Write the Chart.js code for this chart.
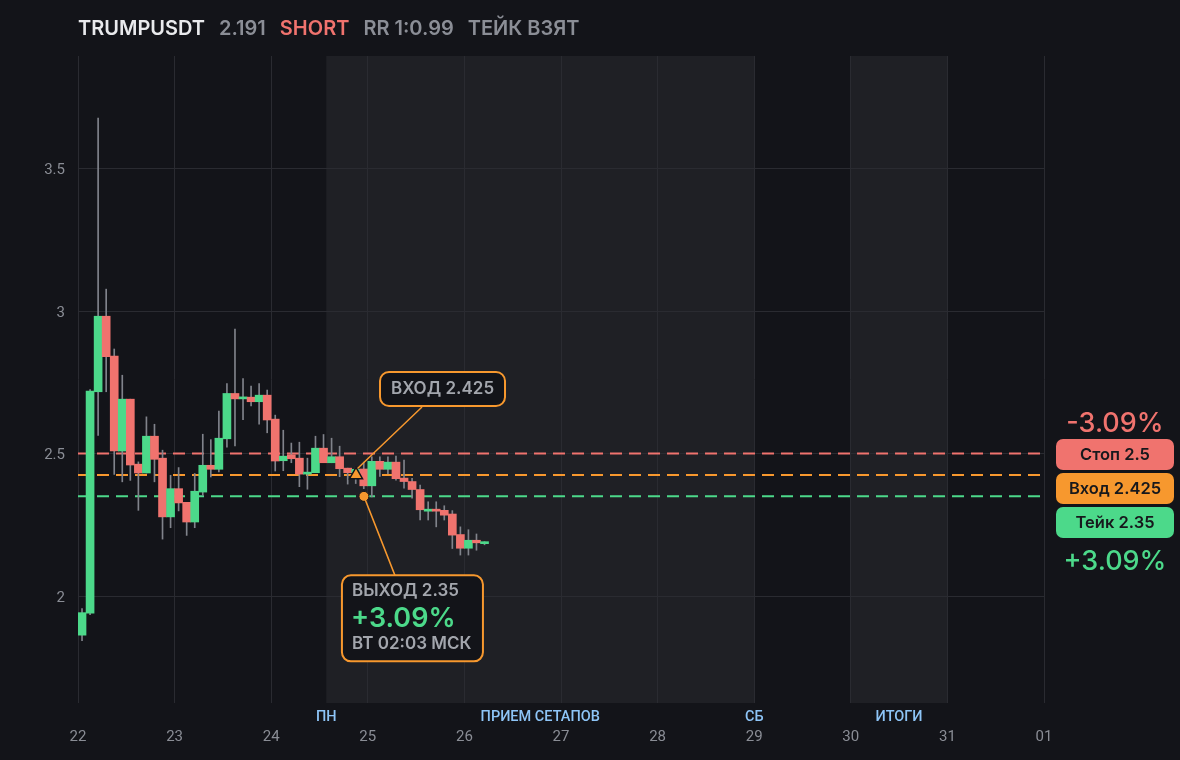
<!DOCTYPE html>
<html lang="ru">
<head>
<meta charset="utf-8">
<title>TRUMPUSDT</title>
<script src="https://cdn.jsdelivr.net/npm/chart.js@4.4.1/dist/chart.umd.min.js"></script>
<style>
html, body { margin: 0; padding: 0; background: #131419; }
#wrap { position: relative; width: 1180px; height: 760px; overflow: hidden; background: #131419; font-family: Inter, "Noto Sans", sans-serif; }
#chart { position: absolute; left: 0; top: 0; }
.head { position: absolute; left: 78px; top: 15px; display: flex; gap: 14px; font-size: 20px; font-weight: 600; line-height: 26px; white-space: nowrap; color: #8b8e96; }
.head .sym { color: #e9eaed; }
.head .side { color: #f0736e; }
.pct { position: absolute; left: 1056px; width: 118px; text-align: center; font-size: 27px; font-weight: 500; line-height: 30px; }
.pill { position: absolute; left: 1056px; width: 118px; height: 31px; border-radius: 7px; text-align: center; font-size: 16.5px; font-weight: 600; line-height: 31px; color: #17181c; }
</style>
</head>
<body>
<div id="wrap">
    <canvas id="chart" width="1180" height="760"></canvas>

    <div class="head">
        <span class="sym">TRUMPUSDT</span>
        <span>2.191</span>
        <span class="side">SHORT</span>
        <span>RR 1:0.99</span>
        <span>ТЕЙК ВЗЯТ</span>
    </div>

    <div class="pct" style="top:408px;color:#f0736e">-3.09%</div>
    <div class="pill" style="top:439px;background:#f0736e">Стоп 2.5</div>
    <div class="pill" style="top:473px;background:#f7982e">Вход 2.425</div>
    <div class="pill" style="top:507px;background:#4cd98a">Тейк 2.35</div>
    <div class="pct" style="top:546px;color:#4cd98a">+3.09%</div>
</div>

<script>
/* ==========================================
   TRUMPUSDT 2h candles + trade levels
========================================== */

/* ---------- data ---------- */

const candleStart = 22;        // day of first candle
const candleStep = 1 / 12;     // 2h candles

const opens = [
    1.863, 1.940, 2.717, 2.982, 2.842, 2.509, 2.691, 2.463, 2.432, 2.561,
    2.484, 2.278, 2.377, 2.329, 2.260, 2.365, 2.459, 2.445, 2.552, 2.711,
    2.692, 2.698, 2.682, 2.705, 2.621, 2.475, 2.496, 2.484, 2.428, 2.433,
    2.519, 2.468, 2.489, 2.449, 2.433, 2.446, 2.387, 2.473, 2.445, 2.470,
    2.414, 2.402, 2.374, 2.298, 2.304, 2.301, 2.288, 2.216, 2.168, 2.196,
    2.184
];
const highs = [
    1.956, 2.725, 3.677, 3.077, 2.867, 2.775, 2.691, 2.471, 2.629, 2.603,
    2.512, 2.424, 2.451, 2.329, 2.430, 2.568, 2.549, 2.649, 2.746, 2.937,
    2.763, 2.737, 2.746, 2.723, 2.635, 2.582, 2.537, 2.540, 2.484, 2.561,
    2.567, 2.554, 2.526, 2.449, 2.450, 2.470, 2.489, 2.489, 2.489, 2.491,
    2.477, 2.413, 2.390, 2.331, 2.331, 2.317, 2.300, 2.243, 2.233, 2.218,
    2.191
];
const lows = [
    1.844, 1.935, 2.564, 2.717, 2.427, 2.401, 2.406, 2.301, 2.432, 2.401,
    2.200, 2.240, 2.299, 2.213, 2.240, 2.354, 2.418, 2.436, 2.523, 2.527,
    2.619, 2.667, 2.603, 2.573, 2.439, 2.440, 2.468, 2.384, 2.375, 2.433,
    2.475, 2.468, 2.419, 2.393, 2.395, 2.377, 2.348, 2.420, 2.430, 2.407,
    2.379, 2.344, 2.267, 2.267, 2.243, 2.267, 2.167, 2.144, 2.144, 2.161,
    2.180
];
const closes = [
    1.942, 2.719, 2.982, 2.840, 2.509, 2.691, 2.460, 2.432, 2.561, 2.480,
    2.278, 2.377, 2.327, 2.260, 2.368, 2.459, 2.445, 2.554, 2.711, 2.692,
    2.698, 2.682, 2.705, 2.618, 2.474, 2.491, 2.482, 2.428, 2.435, 2.519,
    2.468, 2.489, 2.447, 2.433, 2.445, 2.387, 2.473, 2.445, 2.470, 2.412,
    2.402, 2.374, 2.303, 2.304, 2.298, 2.284, 2.214, 2.168, 2.196, 2.187,
    2.191
];

const dayTicks  = [22, 23, 24, 25, 26, 27, 28, 29, 30, 31, 32];
const dayLabels = ["22", "23", "24", "25", "26", "27", "28", "29", "30", "31", "01"];
const yTicks    = [2, 2.5, 3, 3.5];
const yMin = 1.625;
const yMax = 3.895;

const bandFrom = [24.57, 30];
const bandTo   = [29, 31];
const bandNames  = ["ПН", "ПРИЕМ СЕТАПОВ", "СБ", "ИТОГИ"];
const bandNameAt = [24.57, 26.785, 29, 30.5];

const stopPrice  = 2.5;
const entryPrice = 2.425;
const takePrice  = 2.35;
const entryTime  = 24.878;
const exitTime   = 24.96;
const exitPrice  = 2.35;

/* ---------- colours ---------- */

const RED = "#f0736e";
const GREEN = "#4cd98a";
const ORANGE = "#f7982e";
const BG = "#131419";
const BAND = "#1f2025";
const GRID = "#2a2b31";
const TICK = "#8a8d95";

document.addEventListener("DOMContentLoaded", () => {

    const times = opens.map((o, i) => candleStart + (i + 0.5) * candleStep);
    const up = opens.map((o, i) => closes[i] >= o);

    const bodies = times.map((t, i) => ({ x: t, y: [opens[i], closes[i]] }));
    const wicks  = times.map((t, i) => ({ x: t, y: [lows[i], highs[i]] }));

    const level = (price) => [{ x: dayTicks[0], y: price }, { x: dayTicks[dayTicks.length - 1], y: price }];

    /* ======================================
            Background bands + labels
    ====================================== */

    const backdrop = {
        id: "backdrop",
        beforeDraw(chart) {
            const { ctx, chartArea, scales: { x } } = chart;
            ctx.save();
            ctx.fillStyle = BG;
            ctx.fillRect(0, 0, chart.width, chart.height);
            ctx.fillStyle = BAND;
            bandFrom.forEach((from, i) => {
                const x0 = x.getPixelForValue(from);
                const x1 = x.getPixelForValue(bandTo[i]);
                ctx.fillRect(x0, chartArea.top, x1 - x0, chartArea.bottom - chartArea.top);
            });
            ctx.font = "500 14.5px Roboto";
            ctx.fillStyle = "#8ec5f7";
            ctx.textAlign = "center";
            ctx.textBaseline = "middle";
            bandNames.forEach((name, i) => {
                ctx.fillText(name, x.getPixelForValue(bandNameAt[i]), chartArea.bottom + 14);
            });
            ctx.restore();
        }
    };

    /* ======================================
            Entry / exit callouts
    ====================================== */

    const callouts = {
        id: "callouts",
        beforeDatasetDraw(chart, args) {
            if (args.index !== 5) return;
            const { ctx, scales: { x, y } } = chart;
            const ex = x.getPixelForValue(entryTime), ey = y.getPixelForValue(entryPrice);
            const qx = x.getPixelForValue(exitTime), qy = y.getPixelForValue(exitPrice);
            ctx.save();
            ctx.strokeStyle = ORANGE;
            ctx.lineWidth = 1.5;
            ctx.beginPath();
            ctx.moveTo(ex + 66, ey - 68);
            ctx.lineTo(ex + 1, ey - 6);
            ctx.moveTo(qx, qy);
            ctx.lineTo(qx + 31, qy + 79);
            ctx.stroke();
            ctx.restore();
        },
        afterDatasetsDraw(chart) {
            const { ctx, scales: { x, y } } = chart;
            const ex = x.getPixelForValue(entryTime), ey = y.getPixelForValue(entryPrice);
            const qx = x.getPixelForValue(exitTime), qy = y.getPixelForValue(exitPrice);

            const box = (bx, by, w, h) => {
                ctx.beginPath();
                ctx.roundRect(bx, by, w, h, 9);
                ctx.fillStyle = BG;
                ctx.fill();
                ctx.lineWidth = 2;
                ctx.strokeStyle = ORANGE;
                ctx.stroke();
            };

            ctx.save();
            ctx.textBaseline = "middle";

            // entry
            box(ex + 24, ey - 103, 125, 34);
            ctx.font = "600 17px Inter";
            ctx.fillStyle = "#a3a6ad";
            ctx.textAlign = "center";
            ctx.fillText("ВХОД 2.425", ex + 24 + 62.5, ey - 86);

            // exit
            const bx = qx - 22, by = qy + 79;
            box(bx, by, 141, 86);
            ctx.textAlign = "left";
            ctx.fillStyle = "#a3a6ad";
            ctx.font = "600 17px Inter";
            ctx.fillText("ВЫХОД 2.35", bx + 10, by + 16);
            ctx.fillText("ВТ 02:03 МСК", bx + 10, by + 69);
            ctx.fillStyle = GREEN;
            ctx.font = "600 27px Inter";
            ctx.fillText("+3.09%", bx + 9, by + 44);
            ctx.restore();
        }
    };

    /* ======================================
            Chart
    ====================================== */

    new Chart(document.getElementById("chart"), {

        type: "bar",

        data: {
            datasets: [
                {
                    label: "wick",
                    data: wicks,
                    backgroundColor: "#80838b",
                    barThickness: 1,
                    grouped: false,
                    order: 5
                },
                {
                    label: "body",
                    data: bodies,
                    backgroundColor: up.map(u => u ? GREEN : RED),
                    barThickness: 8,
                    minBarLength: 2,
                    grouped: false,
                    order: 4
                },
                {
                    type: "line",
                    label: "stop",
                    data: level(stopPrice),
                    borderColor: RED,
                    borderWidth: 2,
                    borderDash: [12, 7],
                    pointRadius: 0,
                    order: 6
                },
                {
                    type: "line",
                    label: "entry",
                    data: level(entryPrice),
                    borderColor: ORANGE,
                    borderWidth: 2,
                    borderDash: [12, 7],
                    pointRadius: 0,
                    order: 6
                },
                {
                    type: "line",
                    label: "take",
                    data: level(takePrice),
                    borderColor: GREEN,
                    borderWidth: 2,
                    borderDash: [12, 7],
                    pointRadius: 0,
                    order: 6
                },
                {
                    type: "line",
                    label: "entry point",
                    data: [{ x: entryTime, y: entryPrice }],
                    showLine: false,
                    pointStyle: "triangle",
                    pointRadius: 7.5,
                    pointBackgroundColor: ORANGE,
                    pointBorderColor: BG,
                    pointBorderWidth: 1.5,
                    order: 1
                },
                {
                    type: "line",
                    label: "exit point",
                    data: [{ x: exitTime, y: exitPrice }],
                    showLine: false,
                    pointStyle: "circle",
                    pointRadius: 5,
                    pointBackgroundColor: ORANGE,
                    pointBorderColor: BG,
                    pointBorderWidth: 1,
                    order: 1
                }
            ]
        },

        options: {
            responsive: false,
            animation: false,
            events: [],
            layout: { padding: { left: 0, right: 136, top: 56, bottom: 0 } },
            plugins: {
                legend: { display: false },
                tooltip: { enabled: false }
            },
            scales: {
                x: {
                    type: "linear",
                    min: dayTicks[0],
                    max: dayTicks[dayTicks.length - 1],
                    offset: false,
                    afterBuildTicks: axis => { axis.ticks = dayTicks.map(v => ({ value: v })); },
                    afterFit: axis => { axis.height = 57; },
                    grid: { color: GRID, drawTicks: false, offset: false },
                    border: { display: false },
                    ticks: {
                        color: TICK,
                        font: { family: "Roboto", size: 15 },
                        padding: 25,
                        maxRotation: 0,
                        autoSkip: false,
                        callback: v => dayLabels[dayTicks.indexOf(v)]
                    }
                },
                y: {
                    min: yMin,
                    max: yMax,
                    afterBuildTicks: axis => { axis.ticks = yTicks.map(v => ({ value: v })); },
                    afterFit: axis => { axis.width = 78; },
                    grid: { color: GRID, drawTicks: false },
                    border: { display: false },
                    ticks: {
                        color: TICK,
                        font: { family: "Roboto", size: 15 },
                        padding: 13,
                        labelOffset: 2,
                        callback: v => String(v)
                    }
                }
            }
        },

        plugins: [backdrop, callouts]

    });

});
</script>
</body>
</html>
